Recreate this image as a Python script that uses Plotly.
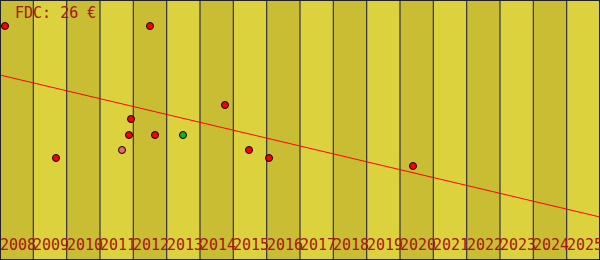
import plotly.graph_objects as go

years = list(range(2008, 2026))
year_labels = [str(y) for y in years]

# points (year position, price in €)
pt_x = [2008.15, 2012.50, 2009.68, 2011.93, 2011.87, 2011.66, 2012.65, 2013.49, 2014.75, 2015.47, 2016.07, 2020.39]
pt_y = [23.4, 23.4, 10.2, 14.1, 12.5, 11.0, 12.5, 12.5, 15.5, 11.0, 10.2, 9.4]
pt_kind = ["r", "r", "r", "r", "r", "p", "r", "g", "r", "r", "r", "r"]

trend_x = [2008, 2026]
trend_y = [18.5, 4.3]

title_text = "FDC: 26 €"

col_map = {"r": "#ff0000", "p": "#f06868", "g": "#22aa22"}
dark_bg = "#c9bd33"
light_bg = "#dcd23d"
txt_col = "#a8140f"
font_fam = "DejaVu Sans Mono"

fig = go.Figure()

shapes = []
for i, y in enumerate(years):
    shapes.append(dict(type="rect", xref="x", yref="paper", x0=y, x1=y + 1, y0=0, y1=1,
                       fillcolor=dark_bg if i % 2 == 0 else light_bg, line=dict(width=0), layer="below"))
for i, y in enumerate(years):
    shapes.append(dict(type="line", xref="x", yref="paper", x0=y, x1=y, y0=0, y1=1,
                       line=dict(color="#333344", width=1.2), layer="below"))
shapes.append(dict(type="rect", xref="paper", yref="paper", x0=0, x1=1, y0=0, y1=1,
                   line=dict(color="#222222", width=2), fillcolor="rgba(0,0,0,0)", layer="above"))

annotations = []
for y, lab in zip(years, year_labels):
    annotations.append(dict(x=y, y=1.55, xref="x", yref="y", text=lab, showarrow=False,
                            xanchor="left", yanchor="middle", xshift=-2,
                            font=dict(family=font_fam, size=15, color=txt_col)))
annotations.append(dict(x=2008, y=1, xref="x", yref="paper", text=title_text, showarrow=False,
                        xanchor="left", yanchor="top", xshift=13, yshift=-2,
                        font=dict(family=font_fam, size=15, color=txt_col)))

fig.add_trace(go.Scatter(x=trend_x, y=trend_y, mode="lines",
                         line=dict(color="#ff0000", width=1), hoverinfo="skip"))
fig.add_trace(go.Scatter(x=pt_x, y=pt_y, mode="markers",
                         marker=dict(size=7, color=[col_map[k] for k in pt_kind],
                                     line=dict(color="#000000", width=1))))

fig.update_layout(
    width=600, height=260, margin=dict(l=0, r=0, t=0, b=0),
    paper_bgcolor=light_bg, plot_bgcolor=light_bg,
    showlegend=False,
    xaxis=dict(range=[2008, 2026], visible=False, fixedrange=True),
    yaxis=dict(range=[0, 26], visible=False, fixedrange=True),
    shapes=shapes, annotations=annotations,
)

fig.write_html("out.html")
